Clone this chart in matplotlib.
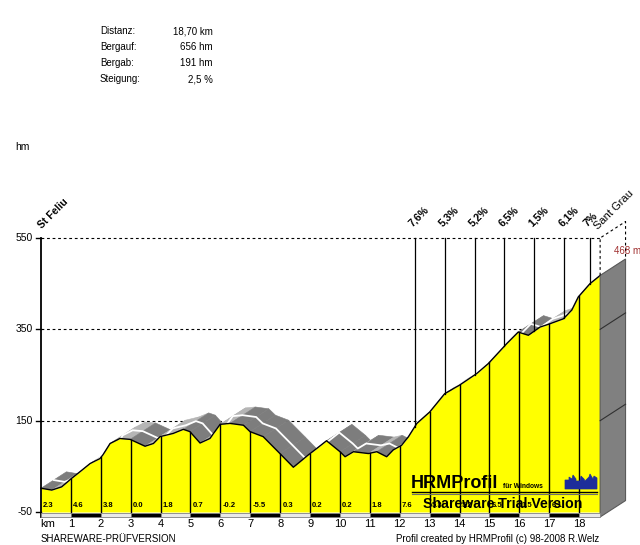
import numpy as np
import matplotlib
matplotlib.use('Agg')
import matplotlib.pyplot as plt
from matplotlib.patches import Polygon, Rectangle

plt.rcParams['font.family'] = ['Liberation Sans', 'DejaVu Sans']

# elevation profile: distance [km], height [m]
km = [0, 0.36, 0.69, 1.03, 1.3, 1.64, 1.97, 2.07, 2.31, 2.64, 2.98, 3.48, 3.76, 3.98,
      4.42, 4.76, 4.98, 5.32, 5.65, 5.99, 6.32, 6.77, 6.99, 7.43, 7.99, 8.44, 8.94,
      9.22, 9.55, 10.0, 10.17, 10.45, 10.95, 11.23, 11.56, 11.78, 12.06, 12.29, 12.57,
      13.0, 13.5, 14.0, 14.57, 14.96, 15.58, 15.96, 16.3, 16.69, 16.97, 17.47, 17.75,
      17.97, 18.36, 18.7]
elev = [2, -2, 5, 24, 38, 56, 67, 75, 100, 111, 109, 94, 100, 115,
        122, 131, 126, 101, 111, 142, 144, 140, 126, 115, 78, 48, 75,
        89, 106, 82, 71, 82, 78, 82, 71, 86, 96, 115, 144,
        169, 209, 228, 253, 275, 319, 344, 337, 355, 361, 373, 392,
        421, 450, 468]

info_labels = ['Distanz:', 'Bergauf:', 'Bergab:', 'Steigung:']
info_values = ['18,70 km', '656 hm', '191 hm', '2,5 %']

# gradient of each km, printed at the bottom of the yellow area
seg_grad = ['2.3', '4.6', '3.8', '0.0', '1.8', '0.7', '-0.2', '-5.5', '0.3', '0.2',
            '0.2', '1.8', '7.6', '5.3', '5.2', '6.5', '1.5', '6.1']

# climb section labels at the top
climb_mid = [12.5, 13.5, 14.5, 15.5, 16.5, 17.5, 18.35]
climb_pct = ['7,6%', '5,3%', '5,2%', '6,5%', '1,5%', '6,1%', '7%']

yticks = [550, 350, 150, -50]
km_ticks = list(range(1, 19))
start_name = 'St Feliu'
end_name = 'Sant Grau'
end_label = '468 m'

# pixel geometry of the original picture
W, H = 640, 545
X0, Y0 = 41, 512          # pixel of km 0 / -50 m
PX_KM = 29.9
PX_M = 274 / 600
DX, DY = 0.85, 36         # 3d depth offset


def kx(px):
    return (px - X0) / PX_KM


def my(py):
    return -50 + (Y0 - py) / PX_M


x = np.array(km)
y = np.array(elev)
end = x[-1]

fig = plt.figure(figsize=(W / 100, H / 100), dpi=100)
ax = fig.add_axes([0, 0, 1, 1])
ax.axis('off')

# dashed grid
for v in yticks[:-1]:
    ax.plot([0, end], [v, v], color='k', lw=0.8, dashes=(2.5, 2.5), zorder=1)

# 3d top surface of the road
for i in range(len(x) - 1):
    quad = [(x[i], y[i]), (x[i + 1], y[i + 1]),
            (x[i + 1] + DX, y[i + 1] + DY), (x[i] + DX, y[i] + DY)]
    col = '#7d7d7d' if y[i + 1] < y[i] - 2 else '#b5b5b5'
    ax.add_patch(Polygon(quad, closed=True, fc=col, ec=col, lw=0.4, zorder=2))
ax.plot(x + DX * 0.5, y + DY * 0.5, color='white', lw=1.3, zorder=2.5)

# yellow profile
ax.fill_between(x, -50, y, color='#ffff00', lw=0, zorder=3)
ax.plot(x, y, color='k', lw=1.0, zorder=4)

for k in km_ticks:
    ax.plot([k, k], [-50, np.interp(k, x, y)], color='k', lw=1.0, zorder=4)

for k, g in enumerate(seg_grad):
    ax.text(k + 0.07, my(505.5), g, fontsize=5.5, fontweight='bold',
            ha='left', va='center', zorder=5)

# climb markers
for m, p in zip(climb_mid, climb_pct):
    ax.plot([m, m], [np.interp(m, x, y), 550], color='k', lw=0.9, zorder=4)
    ax.text(m - 0.02, 550 + 22, p, rotation=45, rotation_mode='anchor',
            ha='left', va='bottom', fontsize=7.5, fontweight='bold', zorder=6)

# right side block
side = [(end, my(517)), (end, y[-1]), (end + DX, y[-1] + DY), (end + DX, my(517) + DY)]
ax.add_patch(Polygon(side, closed=True, fc='#808080', ec='#5a5a5a', lw=0.8, zorder=5))
for v in yticks[1:-1]:
    ax.plot([end, end + DX], [v, v + DY], color='#303030', lw=0.8, zorder=6)
ax.plot([end, end, end + DX, end + DX], [y[-1], 550, 550 + DY, y[-1] + DY],
        color='k', lw=0.8, dashes=(2.5, 2.5), zorder=6)
ax.text(kx(614), my(251), end_label, color='#a03030', fontsize=7,
        ha='left', va='center', zorder=6)

# y axis
ax.plot([0, 0], [my(517), 550], color='k', lw=1.3, zorder=6)
for v in yticks:
    ax.plot([kx(36), 0], [v, v], color='k', lw=1.0, zorder=6)
    ax.text(kx(33), v, str(v), ha='right', va='center', fontsize=7.5)
ax.text(kx(15), my(147), 'hm', ha='left', va='center', fontsize=7.5)

# km bar
for i in range(int(np.ceil(end))):
    w = min(i + 1, end) - i
    fc = 'k' if i % 2 else '#e8e8e8'
    ax.add_patch(Rectangle((i, my(517)), w, my(513) - my(517), fc=fc,
                           ec='#808080', lw=0.6, zorder=6))
ax.text(kx(40), my(524), 'km', ha='left', va='center', fontsize=8)
for k in km_ticks:
    ax.text(k, my(524), str(k), ha='center', va='center', fontsize=8)

# place names
ax.text(kx(43), my(230), start_name, rotation=45, rotation_mode='anchor',
        ha='left', va='bottom', fontsize=7.5, fontweight='bold', zorder=6)
ax.text(kx(599), my(231), end_name, rotation=45, rotation_mode='anchor',
        ha='left', va='bottom', fontsize=8, zorder=6)

# summary
for i, (lab, val) in enumerate(zip(info_labels, info_values)):
    ax.text(kx(100), my(31 + 16 * i), lab, ha='left', va='center', fontsize=7)
    ax.text(kx(213), my(31 + 16 * i), val, ha='right', va='center', fontsize=7)

# watermark
ax.text(kx(411), my(488), 'HRMProfil', fontsize=13, fontweight='bold',
        ha='left', va='baseline', zorder=7)
ax.text(kx(503), my(488), 'für Windows', fontsize=4.8, fontweight='bold',
        ha='left', va='baseline', zorder=7)
ax.plot([kx(412), kx(597)], [my(491.5), my(491.5)], color='k', lw=1.0, zorder=7)
ax.plot([kx(412), kx(597)], [my(494), my(494)], color='#707070', lw=0.8, zorder=7)
sky_px = [565, 565, 569, 569, 572, 573, 576, 576, 580, 581, 584, 585, 589, 590, 593, 594, 597, 597]
sky_py = [489, 480, 480, 477, 479, 475, 479, 481, 481, 476, 479, 481, 477, 474, 479, 476, 478, 489]
ax.add_patch(Polygon([(kx(a), my(b)) for a, b in zip(sky_px, sky_py)], closed=True,
                     fc='#1c2d9a', ec='#1c2d9a', lw=0.5, zorder=7))
ax.text(kx(423), my(507.5), 'Shareware Trial Version', fontsize=10.2,
        fontweight='bold', ha='left', va='baseline', zorder=7)

# footer
ax.text(kx(41), my(539), 'SHAREWARE-PRÜFVERSION', ha='left', va='center', fontsize=7)
ax.text(kx(599), my(539), 'Profil created by HRMProfil (c) 98-2008 R.Welz',
        ha='right', va='center', fontsize=7)

ax.set_xlim(kx(0), kx(W))
ax.set_ylim(my(H), my(0))
fig.savefig('out.png', dpi=100)
